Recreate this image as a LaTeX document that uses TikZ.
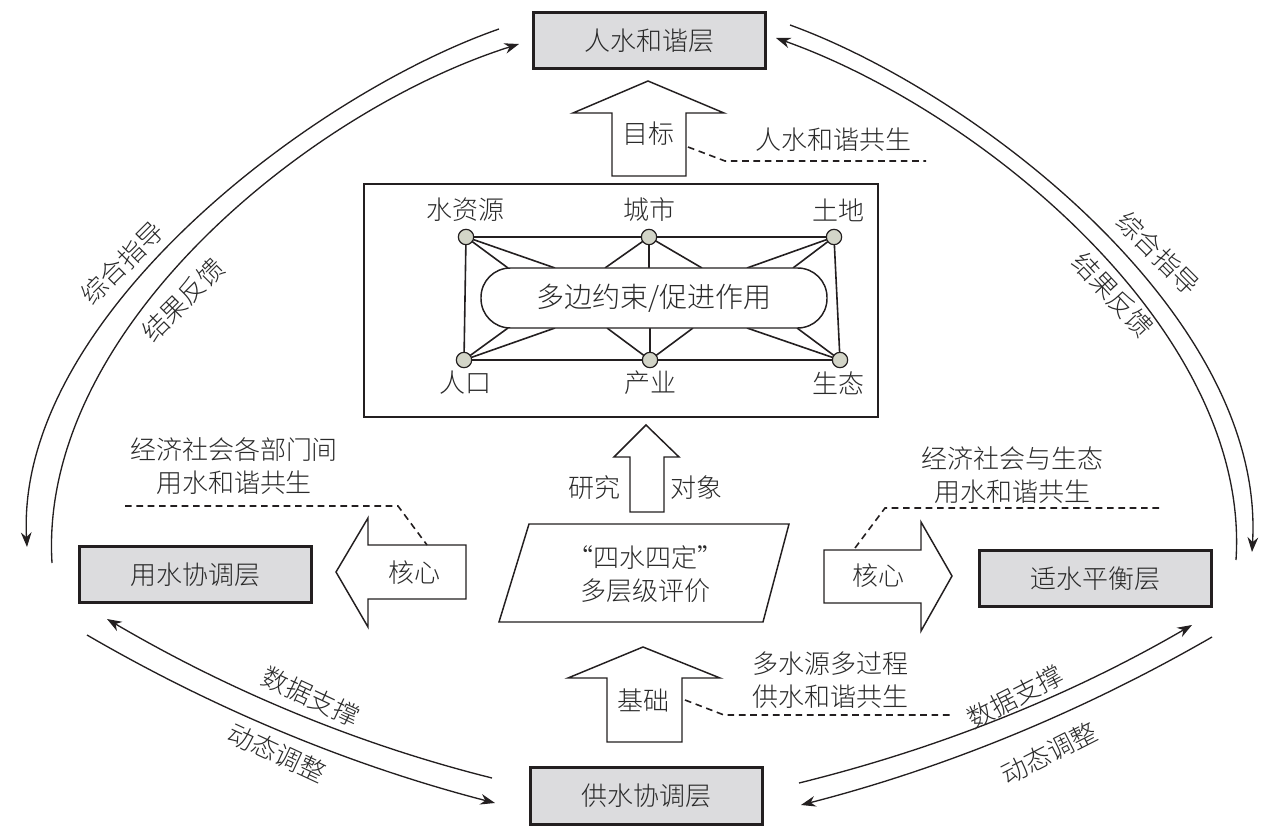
\documentclass[tikz,border=0pt]{standalone}
\usepackage{fontspec}
\setmainfont{Noto Sans CJK SC Light}
\usetikzlibrary{arrows.meta}
\definecolor{lc}{HTML}{231F20}
\definecolor{txt}{HTML}{2A2A2A}
\definecolor{boxfill}{HTML}{DCDCDE}
\definecolor{dotfill}{HTML}{D3D5C8}
\begin{document}
\begin{tikzpicture}[x=0.75pt,y=-0.75pt,
  every node/.style={text=txt, font=\fontsize{19.5}{24.75}\selectfont, inner sep=0pt},
  layer/.style={draw=lc, line width=2.2pt, fill=boxfill, minimum width=174pt, minimum height=42.5pt},
  blockarrow/.style={draw=lc, line width=1.1pt, fill=white, line join=miter},
  net/.style={draw=lc, line width=1.2pt},
  dot/.style={circle, draw=lc, line width=0.9pt, fill=dotfill, minimum size=11.5pt},
  lead/.style={draw=lc, line width=1.2pt, dash pattern=on 5pt off 3.5pt},
  flow/.style={draw=lc, line width=1pt, -{Stealth[length=11pt,width=8pt]}},
  lbl/.style={align=center}
]
\useasboundingbox (0,0) rectangle (1272,831);

% layer boxes
\node[layer] (top) at (649.5,40.5) {人水和谐层};
\node[layer] (use) at (195.5,574.5) {用水协调层};
\node[layer] (fit) at (1095.5,578.5) {适水平衡层};
\node[layer] (sup) at (646.5,796) {供水协调层};

% curved feedback arrows
\coordinate (tlS) at (499,29);   \coordinate (tlE) at (27,547);
\coordinate (tliS) at (52,563);  \coordinate (tliE) at (519,44);
\coordinate (trS) at (790,25);   \coordinate (trE) at (1252,552);
\coordinate (triS) at (1236,560);\coordinate (triE) at (776,38);
\draw[flow] (tlS) .. controls (310,95) and (15,320) .. (tlE);
\draw[flow] (tliS) .. controls (38,330) and (310,110) .. (tliE);
\draw[flow] (trS) .. controls (975,92) and (1266,315) .. (trE);
\draw[flow] (triS) .. controls (1251,330) and (979,110) .. (triE);

\coordinate (blS) at (492,778);  \coordinate (blE) at (107,619);
\coordinate (bliS) at (87,635);  \coordinate (bliE) at (495,803);
\coordinate (brS) at (799,783);  \coordinate (brE) at (1192,625);
\coordinate (briS) at (1212,637);\coordinate (briE) at (801,805);
\draw[flow] (blS) .. controls (356,744) and (228,690) .. (blE);
\draw[flow] (bliS) .. controls (216,710) and (352,766) .. (bliE);
\draw[flow] (brS) .. controls (937,749) and (1068,697) .. (brE);
\draw[flow] (briS) .. controls (1082,712) and (945,768) .. (briE);

\node[rotate=45] (tl1) at (122,263) {综合指导};
\node[rotate=45] (tl2) at (183,300) {结果反馈};
\node[rotate=-45] (tr1) at (1158,253) {综合指导};
\node[rotate=-47] (tr2) at (1113,295) {结果反馈};
\node[rotate=-25] (bl1) at (311,697) {数据支撑};
\node[rotate=-25] (bl2) at (277,753) {动态调整};
\node[rotate=27] (br1) at (1015,697) {数据支撑};
\node[rotate=27] (br2) at (1049,753) {动态调整};

% big box with network
\draw[draw=lc, line width=2pt] (364,184) rectangle (878,417);
\coordinate (A) at (466,237); \coordinate (B) at (649,237); \coordinate (C) at (834,237);
\coordinate (D) at (464,360); \coordinate (E) at (650,360); \coordinate (F) at (840,360);
\draw[net] (A) -- (B) -- (C) -- (F) -- (E) -- (D) -- cycle;
\draw[net] (A) -- (508,268) (A) -- (555,268);
\draw[net] (B) -- (605,268) (B) -- (649,268) (B) -- (702,268);
\draw[net] (C) -- (747,268) (C) -- (793,268);
\draw[net] (D) -- (508,328) (D) -- (555,328);
\draw[net] (E) -- (607,328) (E) -- (650,328) (E) -- (693,328);
\draw[net] (F) -- (747,328) (F) -- (797,328);
\draw[draw=lc, line width=1.1pt, fill=white, rounded corners=22pt] (481,268) rectangle (827,328);
\node (mid) at (654,298) {\fontsize{21}{24}\selectfont 多边约束/促进作用};
\node[dot] (nA) at (A) {}; \node[dot] (nB) at (B) {}; \node[dot] (nC) at (C) {};
\node[dot] (nD) at (D) {}; \node[dot] (nE) at (E) {}; \node[dot] (nF) at (F) {};
\node (tA) at (465,210) {水资源};
\node (tB) at (649,210) {城市};
\node (tC) at (838,210) {土地};
\node (tD) at (465,383) {人口};
\node (tE) at (650,383) {产业};
\node (tF) at (838,383) {生态};

% block arrows
\draw[blockarrow] (573,113) -- (648,81) -- (724,113) -- (686,113) -- (686,176) -- (612,176) -- (612,113) -- cycle;
\node (goal) at (648,134) {目标};
\draw[blockarrow] (614,457) -- (646,425) -- (679,457) -- (664,457) -- (664,512) -- (630,512) -- (630,457) -- cycle;
\node (yj) at (594,488) {研究};
\node (dx) at (696,488) {对象};
\draw[blockarrow] (568,678) -- (643,647) -- (720,678) -- (682,678) -- (682,742) -- (607,742) -- (607,678) -- cycle;
\node (base) at (643,700) {基础};
\draw[blockarrow] (336,572) -- (368,518) -- (368,545) -- (466,545) -- (466,599) -- (368,599) -- (368,627) -- cycle;
\node (coreL) at (414,573) {核心};
\draw[blockarrow] (952,576) -- (921,522) -- (921,550) -- (824,550) -- (824,603) -- (921,603) -- (921,631) -- cycle;
\node (coreR) at (878,576) {核心};

% central parallelogram
\draw[draw=lc, line width=1.1pt, fill=white] (529,524) -- (789,524) -- (763,622) -- (499,622) -- cycle;
\node[lbl] (eval) at (645,574) {“四水四定”\\多层级评价};

% leader lines and annotations
\draw[lead] (688,147) -- (725,161) -- (926,161);
\node (ann1) at (833,140) {人水和谐共生};
\draw[lead] (125,506) -- (398,506) -- (427,545);
\node[lbl] (ann2) at (234,466) {经济社会各部门间\\用水和谐共生};
\draw[lead] (855,548) -- (885,508) -- (1159,508);
\node[lbl] (ann3) at (1012,475) {经济社会与生态\\用水和谐共生};
\draw[lead] (685,700) -- (724,715) -- (951,715);
\node[lbl] (ann4) at (830,680) {多水源多过程\\供水和谐共生};
\end{tikzpicture}
\end{document}
